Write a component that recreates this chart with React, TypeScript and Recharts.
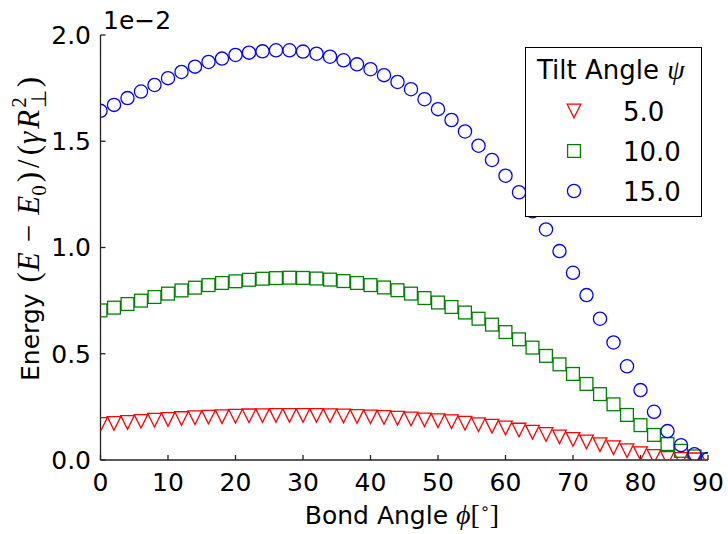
import { ScatterChart, Scatter, XAxis, YAxis, Legend } from 'recharts';

// bond angle phi in degrees, one point every 2 degrees
const angles = [
  0, 2, 4, 6, 8, 10, 12, 14, 16, 18, 20, 22, 24, 26, 28, 30, 32, 34, 36, 38, 40, 42, 44,
  46, 48, 50, 52, 54, 56, 58, 60, 62, 64, 66, 68, 70, 72, 74, 76, 78, 80, 82, 84, 86, 88, 90,
];

// energy in units of 1e-2
const tilt5 = [
  0.167, 0.172, 0.177, 0.182, 0.187, 0.191, 0.195, 0.199, 0.202, 0.204,
  0.206, 0.208, 0.209, 0.210, 0.210, 0.210, 0.210, 0.209, 0.207, 0.205,
  0.203, 0.200, 0.197, 0.193, 0.189, 0.185, 0.180, 0.173, 0.166, 0.159,
  0.151, 0.141, 0.131, 0.120, 0.109, 0.097, 0.085, 0.072, 0.058, 0.044,
  0.030, 0.017, 0.008, 0.003, 0.001, 0.000,
];
const tilt10 = [
  0.704, 0.717, 0.734, 0.750, 0.767, 0.783, 0.798, 0.811, 0.823, 0.833,
  0.841, 0.848, 0.853, 0.856, 0.858, 0.857, 0.854, 0.849, 0.842, 0.833,
  0.823, 0.812, 0.799, 0.783, 0.762, 0.741, 0.720, 0.694, 0.665, 0.637,
  0.602, 0.568, 0.529, 0.490, 0.450, 0.405, 0.358, 0.310, 0.262, 0.212,
  0.164, 0.118, 0.075, 0.043, 0.017, 0.003,
];
const tilt15 = [
  1.643, 1.671, 1.703, 1.734, 1.765, 1.797, 1.826, 1.851, 1.873, 1.889,
  1.906, 1.917, 1.923, 1.928, 1.928, 1.922, 1.912, 1.898, 1.881, 1.862,
  1.839, 1.811, 1.779, 1.745, 1.698, 1.651, 1.600, 1.546, 1.479, 1.412,
  1.338, 1.260, 1.170, 1.085, 0.983, 0.881, 0.776, 0.665, 0.553, 0.441,
  0.329, 0.227, 0.136, 0.070, 0.027, 0.005,
];

const tiltLabels = ['5.0', '10.0', '15.0'];
const xTicks = [0, 10, 20, 30, 40, 50, 60, 70, 80, 90];
const yTicks = [0, 0.5, 1.0, 1.5, 2.0];

const RED = '#ff0000';
const GREEN = '#008000';
const BLUE = '#0000ff';
const SANS = 'DejaVu Sans';
const MATH = 'Liberation Serif';

const toPoints = (vals: number[]) => angles.map((a, i) => ({ phi: a, energy: vals[i] }));

const Triangle = ({ cx, cy }: any) => {
  const r = 6.8;
  return (
    <path
      d={`M${cx - r},${cy - r}L${cx + r},${cy - r}L${cx},${cy + r}Z`}
      fill="none"
      stroke={RED}
      strokeWidth={1.3}
    />
  );
};

const Square = ({ cx, cy }: any) => {
  const r = 6.4;
  return <rect x={cx - r} y={cy - r} width={2 * r} height={2 * r} fill="none" stroke={GREEN} strokeWidth={1.3} />;
};

const Circle = ({ cx, cy }: any) => (
  <circle cx={cx} cy={cy} r={6.6} fill="none" stroke={BLUE} strokeWidth={1.3} />
);

const markers = [Triangle, Square, Circle];

const LegendBox = () => (
  <svg width={177} height={170} style={{ display: 'block' }}>
    <rect x={0.5} y={0.5} width={176} height={169} fill="#fff" stroke="#000" strokeWidth={1} />
    <text x={12} y={32} fontFamily={SANS} fontSize={26} fill="#000">
      Tilt Angle <tspan fontFamily={MATH} fontStyle="italic" fontSize={28}>ψ</tspan>
    </text>
    {tiltLabels.map((lab, i) => {
      const M = markers[i];
      const cy = 64 + i * 40;
      return (
        <g key={lab}>
          <M cx={49} cy={cy} />
          <text x={98} y={cy + 9.5} fontFamily={SANS} fontSize={26} fill="#000">
            {lab}
          </text>
        </g>
      );
    })}
  </svg>
);

const tickStyle = { fontFamily: SANS, fontSize: 25, fill: '#000' };
const spine = { stroke: '#222', strokeWidth: 1.3 };

export default function App() {
  const series = [tilt5, tilt10, tilt15];
  return (
    <div style={{ position: 'absolute', left: 0, top: 0, width: 728, height: 534, background: '#fff' }}>
      <ScatterChart width={728} height={534} margin={{ top: 35, right: 20, bottom: 44, left: 40.5 }}>
        <XAxis
          dataKey="phi"
          type="number"
          domain={[0, 90]}
          ticks={xTicks}
          interval={0}
          allowDataOverflow
          height={30}
          tickSize={-5}
          tickMargin={18.5}
          tick={tickStyle}
          axisLine={spine}
          tickLine={spine}
        />
        <XAxis
          xAxisId="top"
          orientation="top"
          type="number"
          domain={[0, 90]}
          ticks={xTicks}
          interval={0}
          height={0}
          mirror
          tick={false}
          tickSize={5}
          axisLine={spine}
          tickLine={spine}
        />
        <YAxis
          dataKey="energy"
          type="number"
          domain={[0, 2]}
          ticks={yTicks}
          interval={0}
          allowDataOverflow
          width={60}
          tickSize={-5}
          tickMargin={14.5}
          tickFormatter={(v: number) => v.toFixed(1)}
          tick={tickStyle}
          axisLine={spine}
          tickLine={spine}
        />
        <YAxis
          yAxisId="right"
          orientation="right"
          type="number"
          domain={[0, 2]}
          ticks={yTicks}
          interval={0}
          width={0}
          mirror
          tick={false}
          tickSize={5}
          axisLine={spine}
          tickLine={spine}
        />
        <Legend
          layout="vertical"
          align="center"
          verticalAlign="middle"
          wrapperStyle={{ left: 525, top: 47, width: 177, height: 170 }}
          content={() => <LegendBox />}
        />
        {series.map((vals, i) => (
          <Scatter
            key={tiltLabels[i]}
            name={tiltLabels[i]}
            data={toPoints(vals)}
            shape={markers[i]}
            isAnimationActive={false}
          />
        ))}
      </ScatterChart>
      <svg
        width={728}
        height={534}
        style={{ position: 'absolute', left: 0, top: 0, pointerEvents: 'none' }}
      >
        <text x={103} y={29} fontFamily={SANS} fontSize={25} fill="#000">
          1e−2
        </text>
        <text x={402} y={524} textAnchor="middle" fontFamily={SANS} fontSize={25} fill="#000">
          Bond Angle{' '}
          <tspan fontFamily={MATH} fontStyle="italic" fontSize={28}>ϕ</tspan>
          <tspan fontFamily={MATH} fontSize={28}>[</tspan>
          <tspan fontFamily={SANS} fontSize={16} dy={-10}>∘</tspan>
          <tspan fontFamily={MATH} fontSize={28} dy={10}>]</tspan>
        </text>
        <text
          transform="translate(39,229) rotate(-90)"
          textAnchor="middle"
          fontFamily={SANS}
          fontSize={25}
          fill="#000"
        >
          Energy{' '}
          <tspan fontFamily={MATH} fontSize={31} dx={3}>(</tspan>
          <tspan fontFamily={MATH} fontStyle="italic" fontSize={31} dx={1}>E</tspan>
          <tspan fontFamily={MATH} fontSize={31} dx={10}>−</tspan>
          <tspan fontFamily={MATH} fontStyle="italic" fontSize={31} dx={10}>E</tspan>
          <tspan fontFamily={MATH} fontSize={21} dy={7}>0</tspan>
          <tspan fontFamily={MATH} fontSize={31} dy={-7} dx={3}>)</tspan>
          <tspan fontFamily={MATH} fontSize={31} dx={4}>/</tspan>
          <tspan fontFamily={MATH} fontSize={31} dx={4}>(</tspan>
          <tspan fontFamily={MATH} fontStyle="italic" fontSize={31} dx={1}>γ</tspan>
          <tspan fontFamily={MATH} fontStyle="italic" fontSize={31} dx={3}>R</tspan>
          <tspan fontFamily={MATH} fontSize={21} dx={2} dy={-13}>2</tspan>
          <tspan fontFamily={MATH} fontSize={21} dx={-11} dy={20}>⊥</tspan>
          <tspan fontFamily={MATH} fontSize={31} dx={3} dy={-7}>)</tspan>
        </text>
      </svg>
    </div>
  );
}
